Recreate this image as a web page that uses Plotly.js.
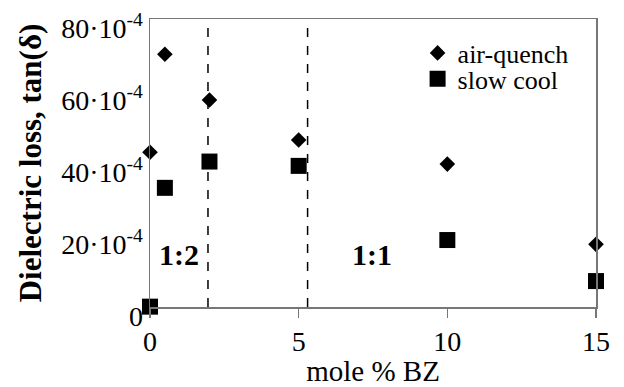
<!DOCTYPE html>
<html>
<head>
<meta charset="utf-8">
<script src="https://cdn.plot.ly/plotly-3.0.1.min.js"></script>
<style>html,body{margin:0;padding:0;background:#fff;}#chart{width:624px;height:387px;}</style>
</head>
<body>
<div id="chart"></div>
<script>
// mole % BZ
const moleBZ = [0, 0.5, 2, 5, 10, 15];
// dielectric loss tan(delta)
const airQuench = [43e-4, 70.2e-4, 57.5e-4, 46.4e-4, 39.7e-4, 17.4e-4];
const slowCool = [0.1e-4, 33.1e-4, 40.4e-4, 39.2e-4, 18.6e-4, 7.2e-4];
// phase boundaries (mole % BZ)
const boundaries = [1.95, 5.3];
// region labels
const regionLabels = ['1:2', '1:1'];
const regionX = [0.99, 7.47];
const regionY = [14.7e-4, 14.7e-4];
// y tick labels
const yTickVals = [0, 20e-4, 40e-4, 60e-4, 80e-4];
const yTickText = ['0', '20·10<sup>-4</sup>', '40·10<sup>-4</sup>', '60·10<sup>-4</sup>', '80·10<sup>-4</sup>'];
const xTickVals = [0, 5, 10, 15];

const serif = '"Liberation Serif", "Times New Roman", serif';

const traces = [
  {
    x: moleBZ, y: airQuench, name: 'air-quench', type: 'scatter', mode: 'markers', legend: 'legend',
    marker: {symbol: 'diamond', size: 12, color: '#000'}, cliponaxis: false
  },
  {
    x: moleBZ, y: slowCool, name: 'slow cool', type: 'scatter', mode: 'markers', legend: 'legend2',
    marker: {symbol: 'square', size: 16, color: '#000'}, cliponaxis: false
  }
];

const shapes = boundaries.map(b => ({
  type: 'line', xref: 'x', yref: 'paper', x0: b, x1: b, y0: 0, y1: 1,
  line: {color: '#000', width: 1.5, dash: 'dash'}
}));

const annotations = regionLabels.map((t, i) => ({
  x: regionX[i], y: regionY[i], xref: 'x', yref: 'y', text: '<b>' + t + '</b>',
  showarrow: false, font: {family: serif, size: 30, color: '#000'}
}));

const legendFont = {family: serif, size: 26, color: '#000'};
const layout = {
  width: 624, height: 387,
  margin: {l: 150, r: 28, t: 19, b: 80},
  paper_bgcolor: '#fff', plot_bgcolor: '#fff',
  showlegend: true,
  legend: {x: 0.6, y: 0.882, xanchor: 'left', yanchor: 'middle', bgcolor: 'rgba(0,0,0,0)',
           font: legendFont, itemwidth: 30},
  legend2: {x: 0.6, y: 0.792, xanchor: 'left', yanchor: 'middle', bgcolor: 'rgba(0,0,0,0)',
           font: legendFont, itemwidth: 30},
  xaxis: {
    range: [0, 15], tickvals: xTickVals, ticks: 'outside', ticklen: 9, tickcolor: '#777', tickwidth: 1.2,
    showline: true, linecolor: '#777', linewidth: 1.5, mirror: true, showgrid: false, zeroline: false,
    tickfont: {family: serif, size: 28, color: '#000'},
    title: {text: 'mole % BZ', font: {family: serif, size: 29, color: '#000'}, standoff: 2}
  },
  yaxis: {
    range: [0, 80e-4], tickvals: yTickVals, ticktext: yTickText, ticks: '', ticklabelshift: 9,
    showline: true, linecolor: '#777', linewidth: 1.5, mirror: true, showgrid: false, zeroline: false,
    tickfont: {family: serif, size: 28, color: '#000'},
    title: {text: '<b>Dielectric loss, tan(δ)</b>', font: {family: serif, size: 31, color: '#000'}, standoff: 10}
  },
  shapes: shapes,
  annotations: annotations
};

Plotly.newPlot('chart', traces, layout, {displayModeBar: false, staticPlot: true});
</script>
</body>
</html>
